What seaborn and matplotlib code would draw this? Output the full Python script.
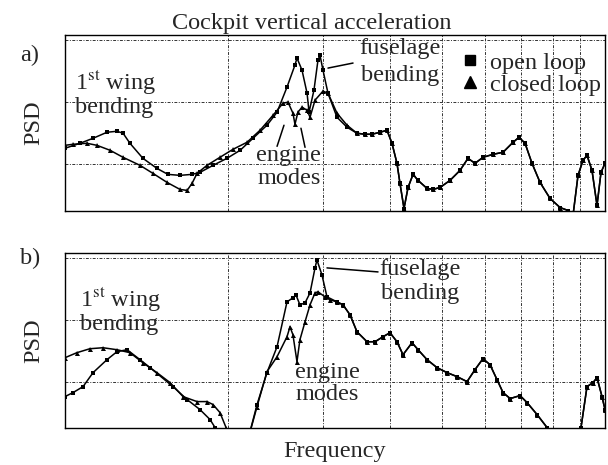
import numpy as np
import matplotlib
matplotlib.use("Agg")
import matplotlib.pyplot as plt
from matplotlib.lines import Line2D
import seaborn as sns

# =========================
# Data (frequency in Hz on a log axis, PSD in dB)
# =========================
# panel a) - before the two curves merge
freq_a_open = [1.0, 1.066, 1.127, 1.196, 1.248, 1.281, 1.319, 1.394, 1.48, 1.551,
               1.633, 1.719, 1.778, 1.88, 1.995, 2.11, 2.229, 2.366, 2.47, 2.577,
               2.666, 2.689, 2.747, 2.807, 2.831, 2.891, 2.941, 2.966, 3.004, 3.069,
               3.189, 3.329]
psd_a_open = [2.58, 3.39, 4.19, 5.16, 5.32, 5.0, 3.39, 0.97, -0.65, -1.61,
              -1.77, -1.61, -1.29, -0.16, 0.97, 2.26, 4.19, 6.29, 8.39, 12.42,
              15.97, 17.1, 15.16, 11.45, 8.4, 11.94, 16.77, 17.58, 15.16, 11.45,
              7.58, 5.97]

freq_a_closed = [1.0, 1.035, 1.098, 1.146, 1.212, 1.281, 1.377, 1.455, 1.545, 1.633,
                 1.683, 1.719, 1.756, 1.832, 1.936, 2.047, 2.173, 2.297, 2.428, 2.534,
                 2.588, 2.643, 2.666, 2.7, 2.747, 2.807, 2.843, 2.904, 3.004, 3.069,
                 3.189, 3.329]
psd_a_closed = [3.06, 3.23, 3.39, 3.06, 2.26, 1.13, -0.16, -1.45, -2.9, -4.03,
                -4.19, -3.06, -1.45, -0.16, 1.13, 2.42, 3.55, 5.48, 7.9, 9.84,
                10.0, 8.23, 6.45, 8.39, 9.19, 8.71, 7.58, 10.32, 11.77, 11.45,
                8.23, 6.29]

# panel a) - common part (both curves)
freq_a_tail = [3.473, 3.594, 3.702, 3.831, 3.947, 4.032, 4.119, 4.172, 4.244, 4.318,
               4.411, 4.506, 4.682, 4.804, 4.95, 5.164, 5.389, 5.576, 5.745, 5.943,
               6.202, 6.474, 6.757, 6.931, 7.111, 7.326, 7.58, 7.911, 8.254, 8.543,
               8.724, 8.913, 9.106, 9.261, 9.461, 9.665, 9.831, 10.0]
psd_a_tail = [5.0, 4.84, 4.84, 5.16, 5.48, 3.39, 0.16, -3.06, -7.1, -3.71,
              -1.61, -2.58, -3.87, -4.03, -3.71, -2.58, -0.97, 0.97, 0.16, 1.13,
              1.61, 1.94, 3.55, 4.35, 3.39, 0.16, -2.9, -5.48, -6.94, -7.42,
              -8.23, -1.77, 0.65, 1.45, -0.97, -6.61, -1.29, 0.16]

# panel b) - before the two curves merge
freq_b_open = [1.0, 1.035, 1.08, 1.127, 1.196, 1.248, 1.303, 1.377, 1.437, 1.585,
               1.683, 1.778, 1.856, 1.896, 1.912, 2.182, 2.268, 2.366, 2.47, 2.577,
               2.643, 2.677, 2.723, 2.783, 2.843, 2.904, 2.928, 2.991, 3.056, 3.189]
psd_b_open = [-2.42, -1.77, -0.81, 1.45, 3.55, 4.84, 5.16, 3.55, 2.26, -0.81,
              -2.9, -4.52, -6.13, -7.42, -9.35, -9.35, -3.71, 1.45, 5.65, 12.9,
              13.55, 14.03, 12.42, 12.74, 14.35, 18.39, 19.68, 17.26, 13.71, 12.9]

freq_b_closed = [1.0, 1.052, 1.112, 1.176, 1.248, 1.319, 1.394, 1.48, 1.565, 1.654,
                 1.756, 1.832, 1.88, 1.936, 1.987, 2.004, 2.182, 2.268, 2.366, 2.47,
                 2.577, 2.61, 2.643, 2.689, 2.723, 2.783, 2.843, 2.904, 2.941, 3.03,
                 3.095, 3.189]
psd_b_closed = [3.87, 4.68, 5.32, 5.48, 5.16, 4.68, 3.06, 1.45, -0.16, -2.42,
                -3.23, -3.23, -3.71, -5.0, -7.42, -9.35, -9.35, -4.03, 1.61, 4.03,
                7.26, 8.87, 7.58, 3.23, 6.77, 9.68, 12.42, 14.35, 14.52, 13.71,
                13.23, 12.9]

# panel b) - common part (both curves)
freq_b_tail = [3.272, 3.371, 3.473, 3.625, 3.751, 3.88, 3.998, 4.119, 4.226, 4.392,
               4.506, 4.682, 4.886, 5.1, 5.321, 5.553, 5.745, 5.943, 6.124, 6.31,
               6.474, 6.673, 6.961, 7.172, 7.484, 7.81, 7.911, 8.913, 9.028, 9.261,
               9.502, 9.665, 9.873, 10.0]
psd_b_tail = [12.42, 10.81, 8.06, 6.45, 6.45, 7.26, 7.9, 6.45, 4.35, 6.29,
              5.16, 3.55, 2.26, 1.45, 0.81, 0.0, 1.94, 3.71, 2.74, 0.32,
              -1.77, -2.74, -2.26, -3.39, -5.32, -7.42, -8.55, -9.35, -7.42, -0.81,
              -0.16, 0.65, -2.42, -4.52]

freq_grid = [1, 2, 3, 4, 5, 6, 7, 8, 9, 10]
psd_grid = [0, 10, 20]

# =========================
# Style
# =========================
sns.set_style("white")
plt.rcParams["font.family"] = ["Liberation Serif", "DejaVu Serif"]
plt.rcParams["mathtext.fontset"] = "stix"
FS = 17.5

fig = plt.figure(figsize=(6.08, 4.65), dpi=100)
ax_a = fig.add_axes([65 / 608, 1 - 211 / 465, 540 / 608, 176 / 465])
ax_b = fig.add_axes([65 / 608, 1 - 428 / 465, 540 / 608, 175 / 465])

line_kw = dict(color="black", lw=1.1, estimator=None, sort=False, legend=False)


def draw_panel(ax, f_open, p_open, f_closed, p_closed, f_tail, p_tail):
    sns.lineplot(x=f_open + f_tail, y=p_open + p_tail, ax=ax, marker="s",
                 markersize=3.2, markeredgewidth=0, **line_kw)
    sns.lineplot(x=f_closed + f_tail, y=p_closed + p_tail, ax=ax, marker="^",
                 markersize=3.6, markeredgewidth=0, **line_kw)

    ax.set_xscale("log")
    ax.set_xlim(1, 10)
    ax.set_ylim(-7.5, 20.8)
    ax.set_xticks(freq_grid)
    ax.set_xticks([], minor=True)
    ax.set_yticks(psd_grid)
    ax.set_xticklabels([])
    ax.set_yticklabels([])
    ax.tick_params(length=0, which="both")
    ax.grid(True, ls=(0, (3, 1.5, 1, 1.5)), lw=0.7, color="0.2")
    for s in ax.spines.values():
        s.set_color("black")
        s.set_linewidth(1.0)
    ax.set_xlabel("")
    ax.set_ylabel("PSD", fontsize=FS)
    ax.yaxis.set_label_coords(-0.038, 0.5)


draw_panel(ax_a, freq_a_open, psd_a_open, freq_a_closed, psd_a_closed, freq_a_tail, psd_a_tail)
draw_panel(ax_b, freq_b_open, psd_b_open, freq_b_closed, psd_b_closed, freq_b_tail, psd_b_tail)

# =========================
# Annotations
# =========================
ax_a.set_title("Cockpit vertical acceleration", fontsize=FS, x=0.457, pad=4)
ax_b.set_xlabel("Frequency", fontsize=FS, labelpad=6)

fig.text(20 / 608, 1 - 55 / 465, "a)", fontsize=FS, va="center")
fig.text(20 / 608, 1 - 258 / 465, "b)", fontsize=FS, va="center")

for ax, x0, y1, y2 in [(ax_a, 1.044, 13.06, 9.19), (ax_b, 1.066, 13.3, 9.19)]:
    ax.text(x0, y1, r"1$^{\mathrm{st}}$ wing", fontsize=FS, va="center")
    ax.text(x0, y2, "bending", fontsize=FS, va="center")

# a) fuselage / engine labels
ax_a.text(4.172, 18.7, "fuselage", fontsize=FS, ha="center", va="center")
ax_a.text(4.172, 14.35, "bending", fontsize=FS, ha="center", va="center")
ax_a.plot([3.069, 3.415], [15.48, 16.29], color="black", lw=1.1)
ax_a.text(2.598, 1.45, "engine", fontsize=FS, ha="center", va="center")
ax_a.text(2.598, -2.26, "modes", fontsize=FS, ha="center", va="center")
ax_a.plot([2.47, 2.544], [2.9, 6.29], color="black", lw=1.1)
ax_a.plot([2.783, 2.735], [2.74, 5.81], color="black", lw=1.1)

# b) fuselage / engine labels
ax_b.text(4.545, 18.06, "fuselage", fontsize=FS, ha="center", va="center")
ax_b.text(4.545, 14.19, "bending", fontsize=FS, ha="center", va="center")
ax_b.plot([3.056, 3.799], [18.39, 17.74], color="black", lw=1.1)
ax_b.text(3.056, 1.45, "engine", fontsize=FS, ha="center", va="center")
ax_b.text(3.056, -2.1, "modes", fontsize=FS, ha="center", va="center")

handles = [
    Line2D([], [], ls="none", marker="s", ms=7, color="black"),
    Line2D([], [], ls="none", marker="^", ms=8.5, color="black"),
]
ax_a.legend(handles, ["open loop", "closed loop"], loc="upper left",
            bbox_to_anchor=(0.727, 0.905), frameon=False, fontsize=FS,
            handlelength=1.0, handletextpad=0.35, labelspacing=0.0,
            borderpad=0, borderaxespad=0)

plt.savefig("out.png", dpi=100)
